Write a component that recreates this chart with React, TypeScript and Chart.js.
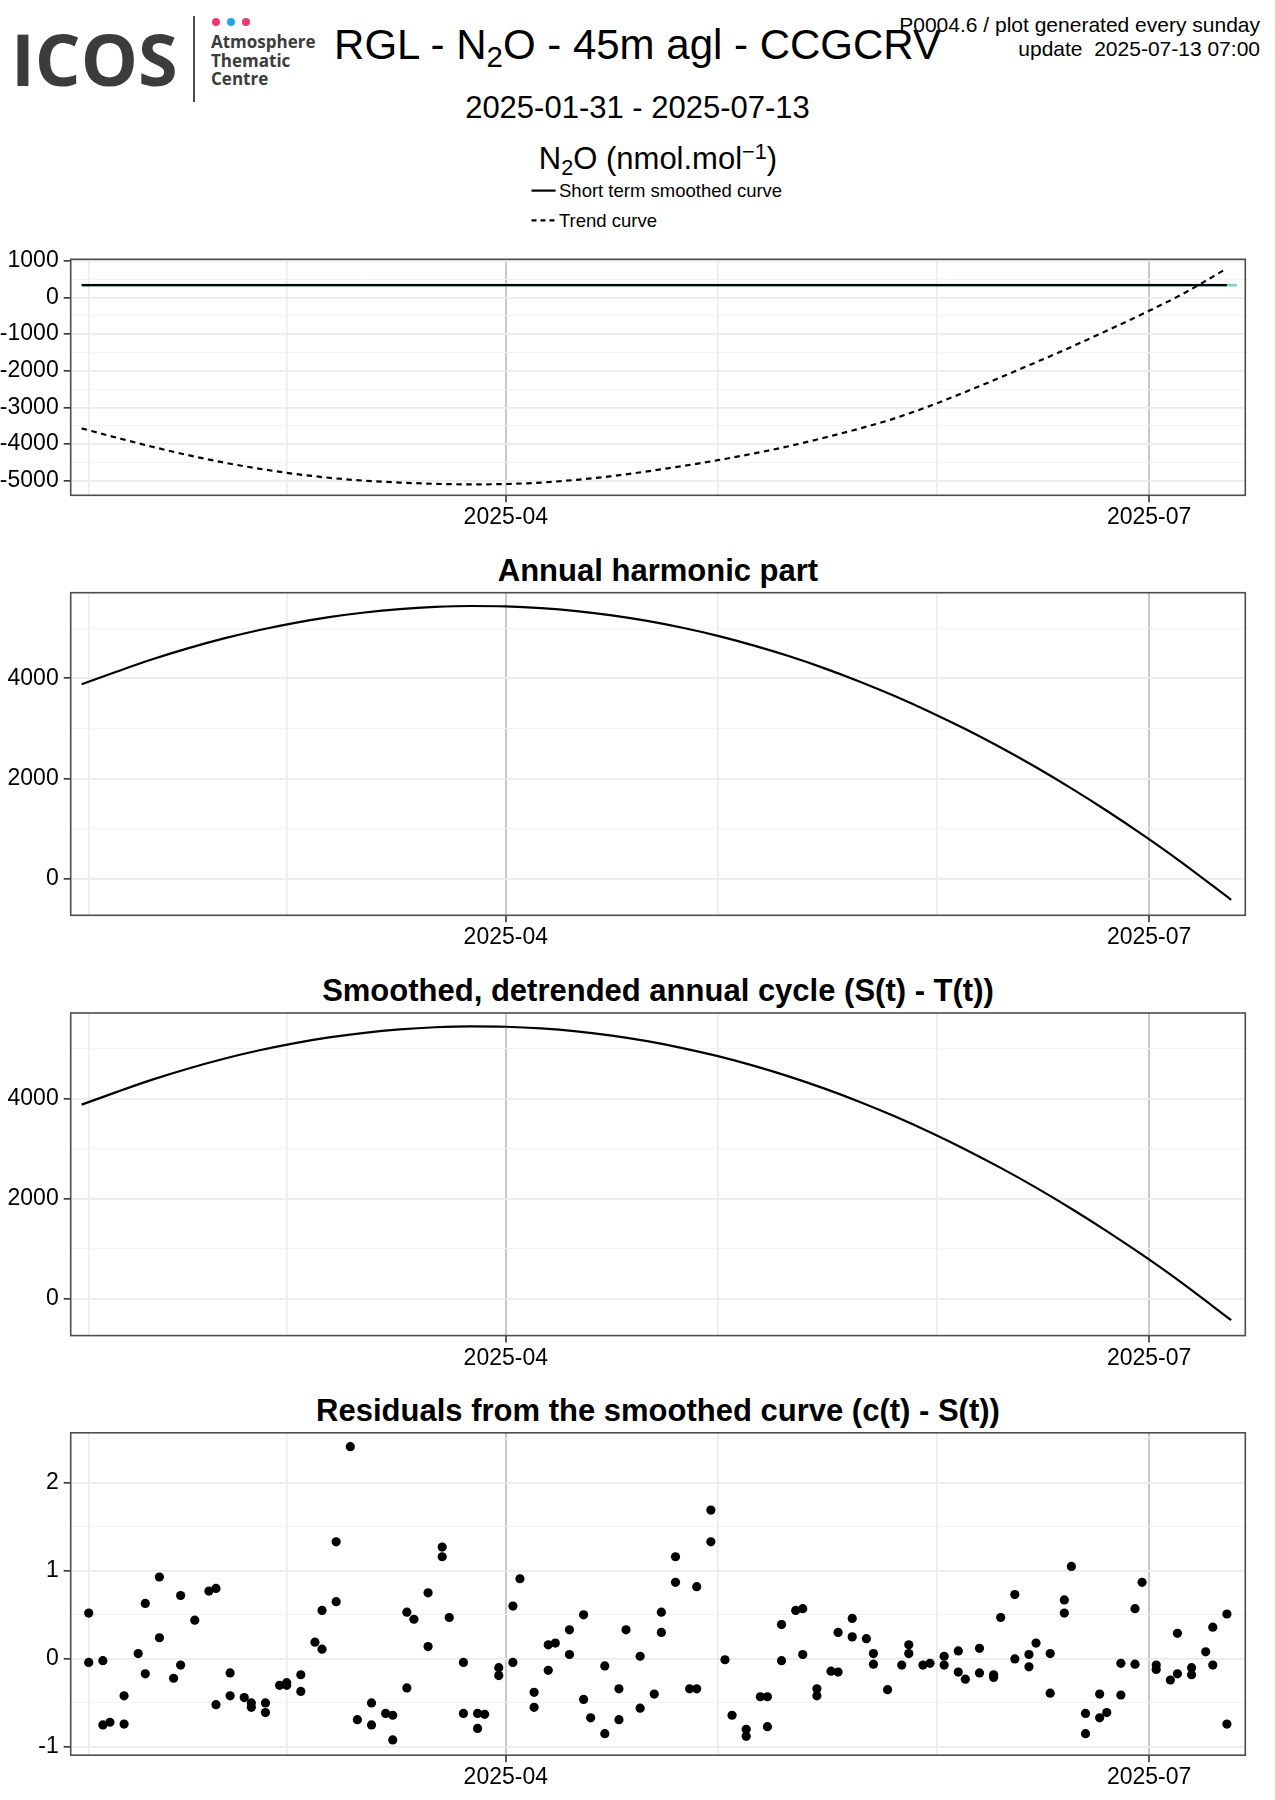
import React, { useEffect, useRef } from 'react';
import { Chart, registerables } from 'chart.js';

Chart.register(...registerables);

// ---------- data ----------
// x values are days counted from 2025-01-01 (= day 0)
const monthTickDays = [31, 59, 90, 120, 151, 181];
const monthTickLabels = ['', '', '2025-04', '', '', '2025-07'];
const xMinDay = 28.45;
const xMaxDay = 194.6;

const smoothDays = [30, 192];
const smoothValues = [335, 335];
const smoothTailDays = [30, 193.4];
const smoothTailValues = [335, 335];

const trendDays = [30, 35, 40, 45, 50, 55, 60, 65, 70, 75, 80, 85, 90, 95, 100, 105, 110, 115, 120, 125, 130, 135, 140, 145, 150, 155, 160, 165, 170, 175, 181, 186, 192];
const trendValues = [-3572, -3830, -4075, -4300, -4500, -4670, -4810, -4920, -5000, -5050, -5085, -5100, -5090, -5050, -4975, -4875, -4745, -4600, -4440, -4260, -4060, -3830, -3580, -3300, -2960, -2580, -2180, -1770, -1350, -910, -365, 120, 790];

const harmonicDays = [30, 35, 40, 45, 50, 55, 60, 65, 70, 75, 80, 85, 90, 95, 100, 105, 110, 115, 120, 125, 130, 135, 140, 145, 150, 155, 160, 165, 170, 175, 180, 185, 192.6];
const harmonicValues = [3880, 4135, 4379, 4597, 4791, 4960, 5103, 5221, 5314, 5382, 5425, 5443, 5435, 5401, 5342, 5257, 5146, 5009, 4847, 4658, 4444, 4204, 3938, 3647, 3329, 2986, 2617, 2223, 1802, 1356, 884, 386, -421];

const cycleDays = [30, 35, 40, 45, 50, 55, 60, 65, 70, 75, 80, 85, 90, 95, 100, 105, 110, 115, 120, 125, 130, 135, 140, 145, 150, 155, 160, 165, 170, 175, 180, 185, 192.6];
const cycleValues = [3880, 4135, 4379, 4597, 4791, 4960, 5103, 5221, 5314, 5382, 5425, 5443, 5435, 5401, 5342, 5257, 5146, 5009, 4847, 4658, 4444, 4204, 3938, 3647, 3329, 2986, 2617, 2223, 1802, 1356, 884, 386, -421];

const residualDays = [
  31, 31, 33, 33, 34, 36, 36, 38, 39, 39,
  41, 41, 43, 44, 44, 46, 48, 49, 49, 51,
  51, 53, 54, 54, 56, 56, 58, 59, 59, 61,
  61, 63, 64, 64, 66, 66, 68, 69, 71, 71,
  73, 74, 74, 76, 76, 77, 79, 79, 81, 81,
  82, 84, 84, 86, 86, 87, 89, 89, 91, 91,
  92, 94, 94, 96, 96, 97, 99, 99, 101, 101,
  102, 104, 104, 106, 106, 107, 109, 109, 111, 112,
  112, 114, 114, 116, 117, 117, 119, 119, 121, 122,
  124, 124, 126, 127, 127, 129, 129, 131, 132, 132,
  134, 134, 136, 137, 137, 139, 139, 141, 142, 142,
  144, 146, 147, 147, 149, 150, 152, 152, 154, 154,
  155, 157, 157, 159, 159, 160, 162, 162, 164, 164,
  165, 167, 167, 169, 169, 170, 172, 172, 174, 174,
  175, 177, 177, 179, 179, 180, 182, 182, 184, 185,
  185, 187, 187, 189, 190, 190, 192, 192,
];
const residualValues = [
  0.52, -0.04, -0.02, -0.75, -0.72, -0.42, -0.74, 0.06, 0.63, -0.17,
  0.93, 0.24, -0.22, 0.72, -0.07, 0.44, 0.77, 0.80, -0.52, -0.16,
  -0.42, -0.44, -0.50, -0.55, -0.50, -0.61, -0.30, -0.27, -0.30, -0.18,
  -0.37, 0.19, 0.55, 0.11, 1.33, 0.65, 2.41, -0.69, -0.50, -0.75,
  -0.62, -0.64, -0.92, 0.53, -0.33, 0.45, 0.75, 0.14, 1.27, 1.16,
  0.47, -0.04, -0.62, -0.62, -0.79, -0.63, -0.10, -0.19, 0.60, -0.04,
  0.91, -0.38, -0.55, 0.16, -0.13, 0.18, 0.33, 0.05, 0.50, -0.46,
  -0.67, -0.08, -0.85, -0.34, -0.69, 0.33, 0.03, -0.56, -0.40, 0.53,
  0.30, 1.16, 0.87, -0.34, -0.34, 0.82, 1.69, 1.33, -0.01, -0.64,
  -0.80, -0.88, -0.43, -0.43, -0.77, 0.39, -0.02, 0.55, 0.57, 0.05,
  -0.34, -0.42, -0.14, -0.15, 0.30, 0.46, 0.25, 0.23, 0.06, -0.06,
  -0.35, -0.07, 0.16, 0.06, -0.07, -0.05, 0.03, -0.07, 0.09, -0.15,
  -0.23, 0.12, -0.16, -0.18, -0.21, 0.47, 0.73, 0.00, 0.05, -0.09,
  0.18, 0.06, -0.39, 0.67, 0.52, 1.05, -0.62, -0.85, -0.40, -0.67,
  -0.61, -0.05, -0.41, 0.57, -0.06, 0.87, -0.07, -0.12, -0.24, 0.29,
  -0.17, -0.10, -0.18, 0.08, 0.36, -0.07, 0.51, -0.74,
];

// y ticks (grid lines) and which ones carry a label
const trendYTicks = [-5000, -4500, -4000, -3500, -3000, -2500, -2000, -1500, -1000, -500, 0, 500, 1000];
const trendYLabelled = [-5000, -4000, -3000, -2000, -1000, 0, 1000];
const cycleYTicks = [0, 1000, 2000, 3000, 4000, 5000];
const cycleYLabelled = [0, 2000, 4000];
const residualYTicks = [-1, -0.5, 0, 0.5, 1, 1.5, 2, 2.5];
const residualYLabelled = [-1, 0, 1, 2];

// ---------- layout / style ----------
const W = 1275;
const AREA_LEFT = 70.7;
const AREA_RIGHT = 1245.3;
const FONT = '"Liberation Sans", Arial, Helvetica, sans-serif';
const LOGO_FONT = '"Open Sans", "DejaVu Sans", sans-serif';

const toXY = (xs: number[], ys: number[]) => xs.map((x, i) => ({ x, y: ys[i] }));

const framePlugin = {
  id: 'frame',
  afterDatasetsDraw(chart: any) {
    const { ctx, chartArea: a } = chart;
    ctx.save();
    ctx.strokeStyle = '#4d4d4d';
    ctx.lineWidth = 1.6;
    ctx.strokeRect(a.left, a.top, a.right - a.left, a.bottom - a.top);
    ctx.restore();
  },
};

const isXMajor = (v: number) => {
  const i = monthTickDays.indexOf(v);
  return i >= 0 && monthTickLabels[i] !== '';
};

type PanelSpec = {
  canvasTop: number;
  canvasHeight: number;
  areaTop: number;
  areaBottom: number;
  yMin: number;
  yMax: number;
  yTicks: number[];
  yLabelled: number[];
  datasets: any[];
};

function Panel({ spec }: { spec: PanelSpec }) {
  const ref = useRef<HTMLCanvasElement | null>(null);
  useEffect(() => {
    if (!ref.current) return;
    const bottomSpace = spec.canvasTop + spec.canvasHeight - spec.areaBottom;
    const chart = new Chart(ref.current, {
      type: 'line',
      data: { datasets: spec.datasets },
      options: {
        animation: false,
        responsive: true,
        maintainAspectRatio: false,
        events: [],
        layout: {
          padding: { top: spec.areaTop - spec.canvasTop, right: W - AREA_RIGHT, left: 0, bottom: 0 },
        },
        plugins: {
          legend: { display: false },
          tooltip: { enabled: false },
          title: { display: false },
        },
        scales: {
          x: {
            type: 'linear',
            min: xMinDay,
            max: xMaxDay,
            afterBuildTicks: (s: any) => {
              s.ticks = monthTickDays.map((v) => ({ value: v }));
            },
            afterFit: (s: any) => {
              s.height = bottomSpace;
              s.paddingLeft = 0;
              s.paddingRight = 0;
              s.paddingTop = 0;
              s.paddingBottom = 0;
            },
            border: { display: false },
            ticks: {
              autoSkip: false,
              maxRotation: 0,
              minRotation: 0,
              padding: 2,
              color: '#000',
              font: { family: FONT, size: 23 },
              callback: (v: any) => {
                const i = monthTickDays.indexOf(Number(v));
                return i >= 0 ? monthTickLabels[i] : '';
              },
            },
            grid: {
              color: (c: any) => (isXMajor(c.tick?.value) ? '#c9c9c9' : '#ebebeb'),
              lineWidth: (c: any) => (isXMajor(c.tick?.value) ? 2 : 1.6),
              tickColor: (c: any) => (isXMajor(c.tick?.value) ? '#333' : 'rgba(0,0,0,0)'),
              tickLength: 7,
              tickWidth: 1.6,
            },
          },
          y: {
            type: 'linear',
            min: spec.yMin,
            max: spec.yMax,
            afterBuildTicks: (s: any) => {
              s.ticks = spec.yTicks.map((v) => ({ value: v }));
            },
            afterFit: (s: any) => {
              s.width = AREA_LEFT;
              s.paddingLeft = 0;
              s.paddingRight = 0;
              s.paddingTop = 0;
              s.paddingBottom = 0;
            },
            border: { display: false },
            ticks: {
              autoSkip: false,
              padding: 5,
              color: '#000',
              font: { family: FONT, size: 23 },
              callback: (v: any) => (spec.yLabelled.includes(Number(v)) ? String(v) : ''),
            },
            grid: {
              color: (c: any) => (spec.yLabelled.includes(c.tick?.value) ? '#ebebeb' : '#f3f3f3'),
              lineWidth: (c: any) => (spec.yLabelled.includes(c.tick?.value) ? 1.7 : 1),
              tickColor: (c: any) => (spec.yLabelled.includes(c.tick?.value) ? '#333' : 'rgba(0,0,0,0)'),
              tickLength: 7,
              tickWidth: 1.6,
            },
          },
        },
      } as any,
      plugins: [framePlugin],
    });
    return () => chart.destroy();
  }, []);
  return (
    <div style={{ position: 'absolute', left: 0, top: spec.canvasTop, width: W, height: spec.canvasHeight }}>
      <canvas ref={ref} />
    </div>
  );
}

const lineStyle = { borderColor: '#000', borderWidth: 2.2, pointRadius: 0, fill: false, cubicInterpolationMode: 'monotone' };

const panel1: PanelSpec = {
  canvasTop: 235,
  canvasHeight: 300,
  areaTop: 259.3,
  areaBottom: 495.3,
  yMin: -5398,
  yMax: 1038,
  yTicks: trendYTicks,
  yLabelled: trendYLabelled,
  datasets: [
    { ...lineStyle, label: 'Short term smoothed curve', data: toXY(smoothDays, smoothValues), borderWidth: 2.4, order: 1 },
    { ...lineStyle, label: 'Trend curve', data: toXY(trendDays, trendValues), borderWidth: 2.2, borderDash: [5.5, 4.5], order: 2 },
    { ...lineStyle, label: 'tail', data: toXY(smoothTailDays, smoothTailValues), borderColor: '#7fd3c3', borderWidth: 2.6, order: 3 },
  ],
};

const panel2: PanelSpec = {
  canvasTop: 585,
  canvasHeight: 370,
  areaTop: 592.7,
  areaBottom: 915.3,
  yMin: -731,
  yMax: 5709,
  yTicks: cycleYTicks,
  yLabelled: cycleYLabelled,
  datasets: [{ ...lineStyle, label: 'Annual harmonic part', data: toXY(harmonicDays, harmonicValues) }],
};

const panel3: PanelSpec = {
  canvasTop: 1005,
  canvasHeight: 370,
  areaTop: 1013.0,
  areaBottom: 1335.6,
  yMin: -731,
  yMax: 5709,
  yTicks: cycleYTicks,
  yLabelled: cycleYLabelled,
  datasets: [{ ...lineStyle, label: 'S(t) - T(t)', data: toXY(cycleDays, cycleValues) }],
};

const panel4: PanelSpec = {
  canvasTop: 1425,
  canvasHeight: 370,
  areaTop: 1432.8,
  areaBottom: 1755.2,
  yMin: -1.094,
  yMax: 2.568,
  yTicks: residualYTicks,
  yLabelled: residualYLabelled,
  datasets: [
    {
      type: 'scatter',
      label: 'residuals',
      data: toXY(residualDays, residualValues),
      showLine: false,
      pointRadius: 4.6,
      pointBackgroundColor: '#000',
      pointBorderWidth: 0,
      borderColor: '#000',
    },
  ],
};

const abs = (extra: React.CSSProperties): React.CSSProperties => ({ position: 'absolute', whiteSpace: 'pre', ...extra });

function PanelTitle({ text, top }: { text: string; top: number }) {
  return (
    <div
      style={abs({
        left: AREA_LEFT,
        width: AREA_RIGHT - AREA_LEFT,
        top,
        textAlign: 'center',
        fontFamily: FONT,
        fontWeight: 'bold',
        fontSize: 31,
        lineHeight: '31px',
        color: '#000',
      })}
    >
      {text}
    </div>
  );
}

export default function App() {
  const sub: React.CSSProperties = { fontSize: '0.7em', position: 'relative', top: '0.28em' };
  const sup: React.CSSProperties = { fontSize: '0.7em', position: 'relative', top: '-0.45em' };
  return (
    <div style={{ position: 'absolute', left: 0, top: 0, width: W, height: 1800, background: '#fff', overflow: 'hidden' }}>
      {/* logo */}
      <div style={abs({ left: 11, top: 22.1, fontFamily: LOGO_FONT, fontWeight: 'bold', fontSize: 72, lineHeight: '72px', color: '#3c3c3c' })}>ICOS</div>
      <div style={abs({ left: 193, top: 16, width: 2, height: 86, background: '#4a4a4a' })} />
      <div style={abs({ left: 211.8, top: 17.8, width: 8, height: 8, borderRadius: 4, background: '#ec3a70' })} />
      <div style={abs({ left: 226.8, top: 17.8, width: 8, height: 8, borderRadius: 4, background: '#22a7e5' })} />
      <div style={abs({ left: 241.7, top: 17.8, width: 8, height: 8, borderRadius: 4, background: '#ec3a70' })} />
      <div style={abs({ left: 211, top: 32.9, fontFamily: LOGO_FONT, fontWeight: 'bold', fontSize: 17, lineHeight: '17px', color: '#3c3c3c' })}>Atmosphere</div>
      <div style={abs({ left: 211, top: 51.5, fontFamily: LOGO_FONT, fontWeight: 'bold', fontSize: 17, lineHeight: '17px', color: '#3c3c3c' })}>Thematic</div>
      <div style={abs({ left: 211, top: 69.9, fontFamily: LOGO_FONT, fontWeight: 'bold', fontSize: 17, lineHeight: '17px', color: '#3c3c3c' })}>Centre</div>

      {/* main title */}
      <div style={abs({ left: 0, width: W, top: 23.5, textAlign: 'center', fontFamily: FONT, fontSize: 42, lineHeight: '42px', color: '#000' })}>
        RGL - N<span style={sub}>2</span>O - 45m agl - CCGCRV
      </div>
      <div style={abs({ right: 15, top: 14.2, textAlign: 'right', fontFamily: FONT, fontSize: 21, lineHeight: '21px', color: '#000' })}>
        P0004.6 / plot generated every sunday
      </div>
      <div style={abs({ right: 15, top: 38.2, textAlign: 'right', fontFamily: FONT, fontSize: 21, lineHeight: '21px', color: '#000' })}>
        update  2025-07-13 07:00
      </div>
      <div style={abs({ left: 0, width: W, top: 91.8, textAlign: 'center', fontFamily: FONT, fontSize: 31, lineHeight: '31px', color: '#000' })}>
        2025-01-31 - 2025-07-13
      </div>
      <div style={abs({ left: AREA_LEFT, width: AREA_RIGHT - AREA_LEFT, top: 142.8, textAlign: 'center', fontFamily: FONT, fontSize: 31, lineHeight: '31px', color: '#000' })}>
        N<span style={sub}>2</span>O (nmol.mol<span style={sup}>−1</span>)
      </div>

      {/* legend */}
      <svg style={abs({ left: 528, top: 180, width: 32, height: 50 })} width={32} height={50}>
        <line x1={3.5} y1={10.6} x2={27.6} y2={10.6} stroke="#000" strokeWidth={2.2} />
        <line x1={3.5} y1={40.4} x2={27.6} y2={40.4} stroke="#000" strokeWidth={2.2} strokeDasharray="5 4" />
      </svg>
      <div style={abs({ left: 559, top: 181.8, fontFamily: FONT, fontSize: 18.5, lineHeight: '18.5px', color: '#000' })}>Short term smoothed curve</div>
      <div style={abs({ left: 559, top: 211.5, fontFamily: FONT, fontSize: 18.5, lineHeight: '18.5px', color: '#000' })}>Trend curve</div>

      <Panel spec={panel1} />
      <PanelTitle text="Annual harmonic part" top={554.8} />
      <Panel spec={panel2} />
      <PanelTitle text="Smoothed, detrended annual cycle (S(t) - T(t))" top={975.1} />
      <Panel spec={panel3} />
      <PanelTitle text="Residuals from the smoothed curve (c(t) - S(t))" top={1395.1} />
      <Panel spec={panel4} />
    </div>
  );
}
